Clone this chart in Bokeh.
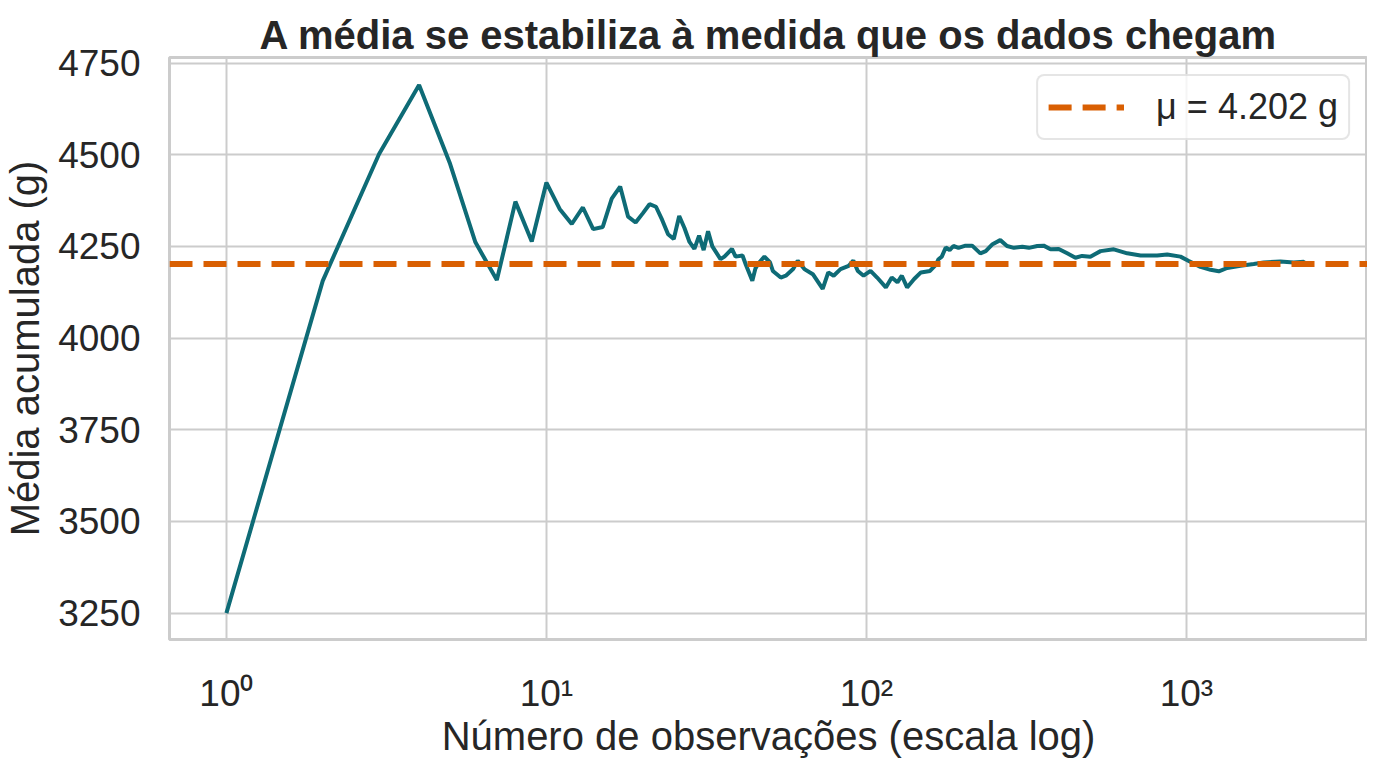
from bokeh.plotting import figure
from bokeh.models import Range1d, FixedTicker, Legend, LegendItem
from bokeh.embed import file_html
from bokeh.resources import INLINE

obs = [1, 2, 3, 4, 5, 6, 7, 8, 9, 10, 11, 12, 13, 14, 15, 16, 17, 18, 19, 20,
       21, 22, 23, 24, 25, 26, 27, 28, 29, 30, 31, 32, 33, 35, 36, 38, 39, 41,
       42, 44, 45, 46, 48, 50, 51, 54, 56, 59, 61, 64, 68, 73, 76, 79, 83, 88,
       91, 94, 98, 103, 108, 115, 120, 125, 129, 134, 141, 148, 158, 165, 168,
       172, 177, 182, 187, 194, 204, 214, 227, 236, 247, 262, 275, 289, 307,
       322, 342, 358, 376, 399, 424, 450, 472, 501, 539, 593, 653, 719, 810,
       871, 958, 1017, 1106, 1190, 1262, 1341, 1475, 1623, 1744, 1967, 2164,
       2326, 2345]
running_mean = [3250, 4156, 4502, 4690, 4475, 4261, 4158, 4372, 4263, 4424,
                4352, 4311, 4356, 4297, 4303, 4380, 4413, 4331, 4315, 4340,
                4365, 4358, 4322, 4283, 4270, 4333, 4300, 4262, 4243, 4279,
                4240, 4291, 4250, 4215, 4222, 4243, 4222, 4225, 4200, 4156,
                4190, 4204, 4222, 4206, 4183, 4165, 4170, 4188, 4211, 4188,
                4174, 4134, 4179, 4170, 4188, 4197, 4211, 4183, 4170, 4183,
                4165, 4138, 4165, 4152, 4170, 4138, 4161, 4179, 4183, 4200,
                4215, 4222, 4247, 4240, 4251, 4246, 4252, 4252, 4231, 4237,
                4255, 4267, 4251, 4246, 4249, 4246, 4251, 4252, 4242, 4243,
                4231, 4219, 4224, 4222, 4237, 4242, 4231, 4225, 4225, 4228,
                4222, 4210, 4194, 4186, 4182, 4191, 4197, 4202, 4206, 4209,
                4206, 4208, 4203]

MU = 4202
MU_LABEL = "μ = 4.202 g"
x_ticks = [1, 10, 100, 1000]
x_tick_labels = {1: "10⁰", 10: "10¹", 100: "10²", 1000: "10³"}
y_ticks = [3250, 3500, 3750, 4000, 4250, 4500, 4750]
X_RANGE = (0.664, 3680)
Y_RANGE = (3178, 4765)

FONT = "Liberation Sans"
TEXT = "#262626"
GRID = "#cccccc"

p = figure(
    width=1367, height=760,
    x_axis_type="log",
    x_range=Range1d(*X_RANGE), y_range=Range1d(*Y_RANGE),
    output_backend="svg", toolbar_location=None,
    min_border_left=169, min_border_right=0,
    min_border_top=57, min_border_bottom=121,
    title="A média se estabiliza à medida que os dados chegam",
)

p.title.text_font = FONT
p.title.text_font_size = "40px"
p.title.text_font_style = "bold"
p.title.text_color = TEXT
p.title.align = "center"
p.title.standoff = 2

p.outline_line_color = GRID
p.outline_line_width = 3

p.xaxis.ticker = FixedTicker(ticks=x_ticks)
p.xaxis.major_label_overrides = x_tick_labels
p.yaxis.ticker = FixedTicker(ticks=y_ticks)

p.xaxis.axis_label = "Número de observações (escala log)"
p.yaxis.axis_label = "Média acumulada (g)"

for ax in (p.xaxis, p.yaxis):
    ax.axis_line_color = None
    ax.major_tick_line_color = None
    ax.minor_tick_line_color = None
    ax.major_label_text_font = FONT
    ax.major_label_text_font_size = "37px"
    ax.major_label_text_color = TEXT
    ax.axis_label_text_font = FONT
    ax.axis_label_text_font_size = "40px"
    ax.axis_label_text_font_style = "normal"
    ax.axis_label_text_color = TEXT

p.xaxis.major_label_standoff = 27
p.xaxis.axis_label_standoff = -3
p.yaxis.major_label_standoff = 23
p.yaxis.axis_label_standoff = 8

p.xgrid.grid_line_color = GRID
p.xgrid.grid_line_width = 2
p.ygrid.grid_line_color = GRID
p.ygrid.grid_line_width = 2

p.line(obs, running_mean, line_color="#0e6b76", line_width=4)

mean_line = p.line(list(X_RANGE), [MU, MU], line_color="#d95f02",
                   line_width=6, line_dash="23 11")

legend = Legend(items=[LegendItem(label=MU_LABEL, renderers=[mean_line])],
                location="top_right")
legend.label_text_font = FONT
legend.label_text_font_size = "36px"
legend.label_text_color = TEXT
legend.glyph_width = 76
legend.glyph_height = 30
legend.label_height = 30
legend.label_standoff = 32
legend.padding = 10
legend.margin = 17
legend.border_line_color = GRID
legend.border_line_width = 2
legend.border_radius = 8
legend.background_fill_alpha = 0.8
p.add_layout(legend)

open("out.html", "w").write(file_html(p, INLINE))
